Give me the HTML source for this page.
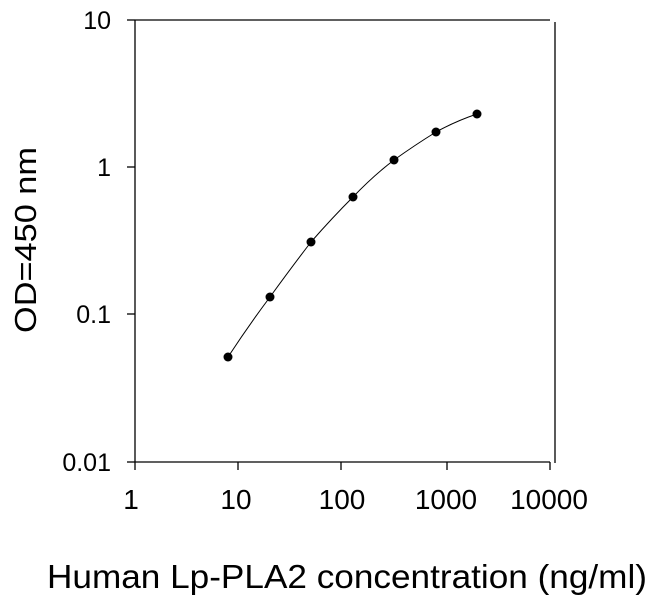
<!DOCTYPE html>
<html><head><style>body{margin:0;background:#fff}</style></head><body>
<svg width="650" height="604" xmlns="http://www.w3.org/2000/svg" font-family="Liberation Sans, Arial, sans-serif" fill="#000">
<rect width="650" height="604" fill="#fff"/>
<g stroke="#000" stroke-width="1.3" fill="none">
<line x1="135" y1="20" x2="550" y2="20"/>
<line x1="135" y1="20" x2="135" y2="462"/>
<line x1="135" y1="462" x2="550" y2="462"/>
<line x1="555" y1="22" x2="555" y2="463"/>
<line x1="127" y1="20" x2="135" y2="20"/>
<line x1="127" y1="167" x2="135" y2="167"/>
<line x1="127" y1="314" x2="135" y2="314"/>
<line x1="127" y1="462" x2="135" y2="462"/>
<line x1="135" y1="462" x2="135" y2="470"/>
<line x1="238" y1="462" x2="238" y2="470"/>
<line x1="341" y1="462" x2="341" y2="470"/>
<line x1="447" y1="462" x2="447" y2="470"/>
<line x1="550" y1="462" x2="550" y2="470"/>
<path d="M228,357 Q249,325 270,297 Q291,268 311,242 Q332,218 353,197 Q373,176 394,160 Q415,145 436,132 Q456,121 477,114" stroke-width="1"/>
</g>
<g>
<circle cx="228" cy="357" r="4.5"/><circle cx="270" cy="297" r="4.5"/><circle cx="311" cy="242" r="4.5"/>
<circle cx="353" cy="197" r="4.5"/><circle cx="394" cy="160" r="4.5"/><circle cx="436" cy="132" r="4.5"/>
<circle cx="477" cy="114" r="4.5"/>
</g>
<g font-size="25" text-anchor="end">
<text x="111" y="29">10</text>
<text x="111" y="176">1</text>
<text x="111" y="323">0.1</text>
<text x="111" y="471">0.01</text>
</g>
<g font-size="28" text-anchor="middle">
<text x="131" y="509">1</text>
<text x="236" y="509">10</text>
<text x="342" y="509">100</text>
<text x="446" y="509">1000</text>
<text x="549" y="509">10000</text>
</g>
<text x="47" y="588" font-size="33" textLength="600" lengthAdjust="spacingAndGlyphs">Human Lp-PLA2 concentration (ng/ml)</text>
<text transform="translate(36,240) rotate(-90)" font-size="31" text-anchor="middle" textLength="186" lengthAdjust="spacingAndGlyphs">OD=450 nm</text>
</svg>
</body></html>
